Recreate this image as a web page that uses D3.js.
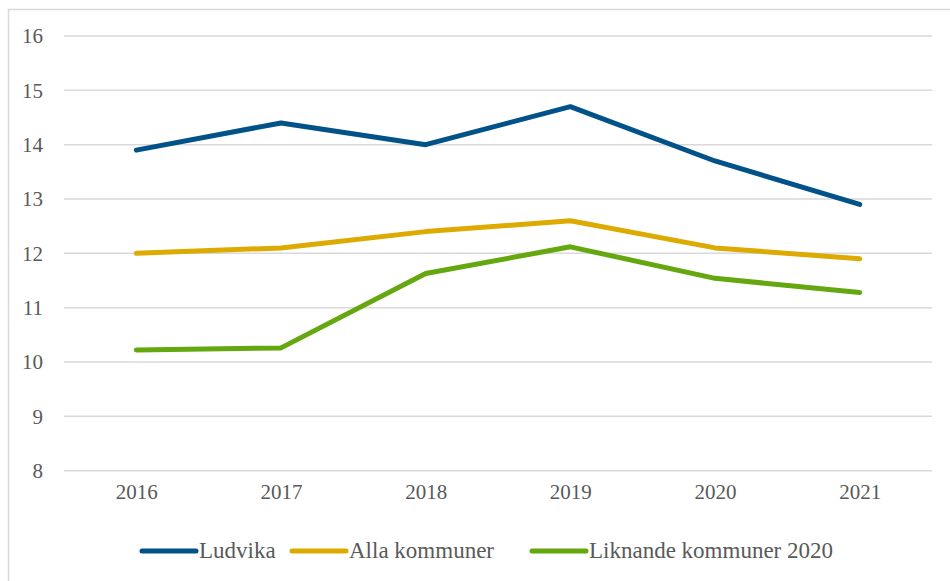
<!DOCTYPE html>
<html>
<head>
  <meta charset="UTF-8">
  <style>
    body { margin: 0; background: #fff; }
  </style>
</head>
<body>
  <script src="https://d3js.org/d3.v7.min.js"></script>
  <div id="chart"></div>

  <script>
    const years = ['2016', '2017', '2018', '2019', '2020', '2021']
    const ludvika = [13.9, 14.4, 14.0, 14.7, 13.7, 12.9]
    const alla = [12.0, 12.1, 12.4, 12.6, 12.1, 11.9]
    const liknande = [10.22, 10.26, 11.63, 12.12, 11.54, 11.28]
    const yTicks = [8, 9, 10, 11, 12, 13, 14, 15, 16]

    const series = [
      { name: 'Ludvika', values: ludvika, color: '#005288' },
      { name: 'Alla kommuner', values: alla, color: '#dcaa00' },
      { name: 'Liknande kommuner 2020', values: liknande, color: '#64a70f' }
    ]

    const FONT = '"Liberation Serif", Tinos, FreeSerif, serif'
    const W = 950, H = 581
    const svg = d3.select('#chart')
      .append('svg')
      .attr('width', W)
      .attr('height', H)

    // chart border
    svg.append('rect')
      .attr('x', 8.5).attr('y', 9.5)
      .attr('width', 960).attr('height', 600)
      .attr('fill', 'none')
      .attr('stroke', '#d9d9d9')
      .attr('stroke-width', 1.5)

    const x = d3.scalePoint()
      .domain(years)
      .range([64, 932])
      .padding(0.5)

    const y = d3.scaleLinear()
      .domain([8, 16])
      .range([470.7, 36])

    // gridlines
    svg.append('g')
      .selectAll('line')
      .data(yTicks)
      .join('line')
      .attr('x1', 64).attr('x2', 932)
      .attr('y1', d => y(d)).attr('y2', d => y(d))
      .attr('stroke', '#d9d9d9')
      .attr('stroke-width', 1.5)

    const yAxis = svg.append('g')
      .attr('transform', 'translate(43, 0)')
      .call(d3.axisLeft(y).tickValues(yTicks).tickSize(0).tickPadding(0))
    yAxis.select('.domain').remove()

    const xAxis = svg.append('g')
      .attr('transform', 'translate(0, 484)')
      .call(d3.axisBottom(x).tickSize(0).tickPadding(0))
    xAxis.select('.domain').remove()

    svg.selectAll('.tick text')
      .attr('fill', '#595959')
      .style('font-size', '21px')

    const line = d3.line()
      .x((d, i) => x(years[i]))
      .y(d => y(d))

    svg.append('g')
      .selectAll('path')
      .data(series)
      .join('path')
      .attr('d', d => line(d.values))
      .attr('fill', 'none')
      .attr('stroke', d => d.color)
      .attr('stroke-width', 5)
      .attr('stroke-linecap', 'round')
      .attr('stroke-linejoin', 'round')

    // legend
    const legendX = [142, 292, 532]
    const legend = svg.append('g')
      .selectAll('g')
      .data(series)
      .join('g')
      .attr('transform', (d, i) => `translate(${legendX[i]}, 551)`)
    legend.append('line')
      .attr('x1', 0).attr('x2', 54)
      .attr('stroke', d => d.color)
      .attr('stroke-width', 5)
      .attr('stroke-linecap', 'round')
    legend.append('text')
      .attr('x', 57)
      .attr('y', 7)
      .attr('fill', '#595959')
      .style('font-size', '23px')
      .text(d => d.name)

    const setFont = () => svg.selectAll('text').style('font-family', FONT)
    setFont()
    // re-apply once fonts are ready, fallbacks sometimes stick otherwise
    if (document.fonts) document.fonts.ready.then(setFont)
  </script>
</body>
</html>
